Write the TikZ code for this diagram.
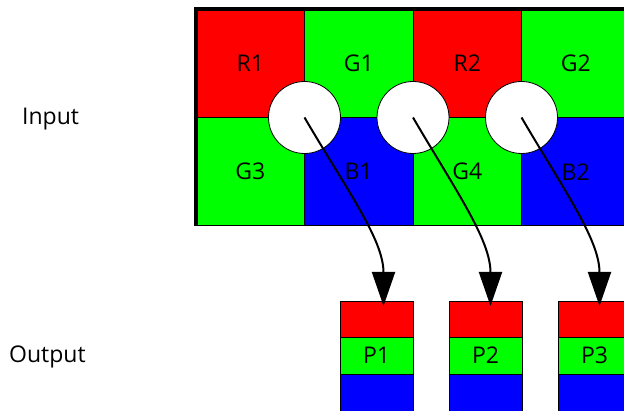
\documentclass[tikz,border=0pt]{standalone}
\usepackage{fontspec}
\setmainfont{Open Sans}
\usetikzlibrary{arrows.meta,positioning}
\definecolor{pxred}{HTML}{FF0000}
\definecolor{pxgreen}{HTML}{00FF00}
\definecolor{pxblue}{HTML}{0000FF}

\begin{document}
\begin{tikzpicture}[x=1pt,y=1pt,font=\fontsize{23}{27}\selectfont,
    cell/.style={draw,line width=1pt,minimum size=108.5pt,inner sep=0pt,outer sep=0pt},
    hole/.style={draw,circle,fill=white,line width=0.8pt,minimum size=72pt,inner sep=0pt},
    band/.style={draw,line width=1pt,minimum width=73pt,inner sep=0pt,outer sep=0pt},
    flow/.style={-{Triangle[length=34pt,width=23pt]},line width=2pt}]
    \useasboundingbox (0,0) rectangle (624,410);
    % sensor mosaic
    \node (r1) [cell,fill=pxred] at (250.25,346.75) {R1};
    \node (g1) [cell,fill=pxgreen,right=0pt of r1] {G1};
    \node (r2) [cell,fill=pxred,right=0pt of g1] {R2};
    \node (g2) [cell,fill=pxgreen,right=0pt of r2] {G2};
    \node (g3) [cell,fill=pxgreen,below=0pt of r1] {G3};
    \node (b1) [cell,fill=pxblue,right=0pt of g3] {B1};
    \node (g4) [cell,fill=pxgreen,right=0pt of b1] {G4};
    \node (b2) [cell,fill=pxblue,right=0pt of g4] {B2};
    \draw[line width=4pt] (g3.south west) -- (r1.north west) -- (g2.north east);
    \node (s1) [hole] at (r1.south east) {};
    \node (s2) [hole] at (r2.south west) {};
    \node (s3) [hole] at (r2.south east) {};
    % output pixels
    \node (p1) [band,fill=pxgreen,minimum height=37pt] at (376.5,54.5) {P1};
    \node (p2) [band,fill=pxgreen,minimum height=37pt,right=36pt of p1] {P2};
    \node (p3) [band,fill=pxgreen,minimum height=37pt,right=36pt of p2] {P3};
    \node (top1) [band,fill=pxred,minimum height=35pt,above=0pt of p1] {};
    \node (top2) [band,fill=pxred,minimum height=35pt,above=0pt of p2] {};
    \node (top3) [band,fill=pxred,minimum height=35pt,above=0pt of p3] {};
    \node (bot1) [band,fill=pxblue,minimum height=37pt,below=0pt of p1] {};
    \node (bot2) [band,fill=pxblue,minimum height=37pt,below=0pt of p2] {};
    \node (bot3) [band,fill=pxblue,minimum height=37pt,below=0pt of p3] {};
    \draw[flow] (s1.center) .. controls +(44,-75) and +(0,66) .. ([xshift=7pt,yshift=-4pt]top1.north);
    \draw[flow] (s2.center) .. controls +(44,-75) and +(0,66) .. ([xshift=5pt,yshift=-4pt]top2.north);
    \draw[flow] (s3.center) .. controls +(44,-75) and +(0,66) .. ([xshift=5pt,yshift=-4pt]top3.north);
    % side labels
    \node (in) [anchor=base west,inner sep=0pt] at (22,285) {Input};
    \node (out) [anchor=base west,inner sep=0pt] at (9,48) {Output};
\end{tikzpicture}
\end{document}
